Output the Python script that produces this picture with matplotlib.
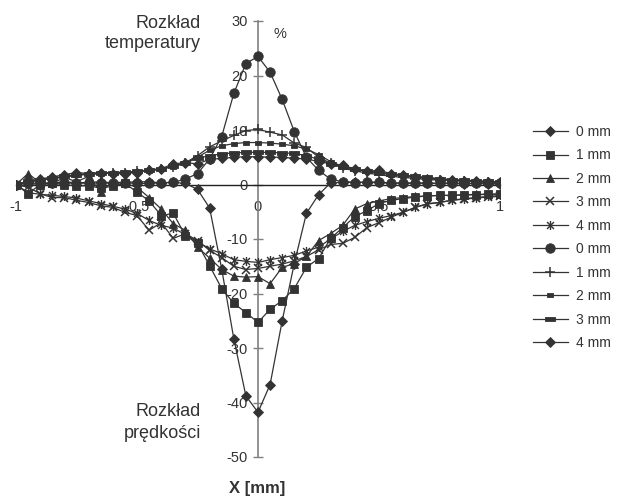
import matplotlib
matplotlib.use("Agg")
import matplotlib.pyplot as plt
from matplotlib.path import Path

plt.rcParams['font.family'] = ['Liberation Sans', 'DejaVu Sans']

# Position across the channel [mm]
x_mm = [-1.00, -0.95, -0.90, -0.85, -0.80, -0.75, -0.70, -0.65, -0.60, -0.55,
        -0.50, -0.45, -0.40, -0.35, -0.30, -0.25, -0.20, -0.15, -0.10, -0.05,
        0.00, 0.05, 0.10, 0.15, 0.20, 0.25, 0.30, 0.35, 0.40, 0.45,
        0.50, 0.55, 0.60, 0.65, 0.70, 0.75, 0.80, 0.85, 0.90, 0.95, 1.00]

# Velocity distribution [%] at distances 0..4 mm
vel_0mm = [0.0, 0.2, 0.0, 0.3, 0.5, 0.3, 0.4, 0.5, 0.3, 0.4,
           0.5, 0.5, 0.3, 0.4, 0.2, -0.9, -4.3, -15.5, -28.3, -38.8,
           -41.8, -36.7, -25.0, -14.5, -5.3, -1.9, 0.3, 0.4, 0.5, 0.3,
           0.4, 0.2, 0.3, 0.2, 0.3, 0.2, 0.2, 0.1, 0.2, 0.1, 0.1]
vel_1mm = [0.0, -1.7, 0.0, 0.2, 0.0, -0.3, -0.2, -0.7, -0.3, 0.2,
           -1.4, -3.0, -5.7, -5.3, -9.4, -10.8, -14.9, -19.1, -21.8, -23.5,
           -25.3, -22.9, -21.3, -19.1, -15.2, -13.6, -9.9, -7.9, -5.9, -4.8,
           -3.5, -2.9, -2.6, -2.3, -2.1, -2.0, -2.0, -1.9, -1.9, -1.8, -1.8]
vel_2mm = [0.0, 2.0, 0.3, 0.2, 1.3, 0.5, 1.5, -1.4, 0.6, 0.2,
           -0.5, -2.4, -4.5, -7.2, -8.4, -11.5, -13.5, -15.6, -16.8, -17.0,
           -16.9, -18.2, -15.2, -14.5, -13.2, -10.3, -9.0, -7.5, -4.5, -3.5,
           -3.0, -2.6, -2.4, -2.2, -2.1, -2.0, -2.0, -1.9, -1.8, -1.8, -1.7]
vel_3mm = [0.0, -0.5, -1.7, -2.4, -2.4, -2.9, -3.3, -3.9, -4.2, -5.1,
           -5.7, -8.4, -7.0, -9.9, -9.0, -10.3, -12.1, -13.4, -15.0, -15.6,
           -15.4, -15.0, -14.6, -14.0, -13.2, -12.0, -11.0, -10.8, -9.7, -7.9,
           -7.0, -6.0, -5.1, -4.2, -3.6, -3.3, -2.9, -2.7, -2.5, -2.3, -2.2]
vel_4mm = [0.0, -1.5, -1.8, -2.0, -2.2, -2.5, -3.0, -3.5, -4.0, -4.5,
           -5.3, -6.6, -7.5, -8.0, -9.2, -10.5, -11.8, -12.7, -13.8, -14.1,
           -14.3, -13.8, -13.4, -13.0, -12.2, -11.5, -10.0, -8.6, -7.5, -6.8,
           -6.2, -5.7, -5.1, -4.2, -3.5, -3.3, -2.9, -2.6, -2.4, -2.2, -2.0]

# Temperature distribution [%] at distances 0..4 mm
temp_0mm = [0.0, 0.3, 0.2, 0.3, 0.2, 0.3, 0.2, 0.3, 0.2, 0.3,
            0.2, 0.2, 0.3, 0.4, 1.0, 2.0, 4.7, 8.8, 16.7, 22.2,
            23.5, 20.6, 15.6, 9.7, 5.0, 2.6, 1.0, 0.5, 0.3, 0.5,
            0.4, 0.3, 0.2, 0.3, 0.2, 0.2, 0.3, 0.2, 0.2, 0.3, 0.2]
temp_1mm = [0.0, 0.5, 0.8, 1.1, 1.4, 1.7, 1.9, 2.0, 2.1, 2.2,
            2.4, 2.6, 2.9, 3.3, 4.0, 5.3, 6.9, 8.0, 9.0, 9.9,
            10.1, 9.6, 9.1, 7.6, 6.8, 5.0, 3.9, 3.0, 2.5, 2.1,
            1.8, 1.5, 1.3, 1.1, 0.9, 0.8, 0.7, 0.6, 0.5, 0.4, 0.3]
temp_2mm = [0.0, 0.5, 0.8, 1.1, 1.4, 1.7, 1.9, 2.0, 2.1, 2.2,
            2.3, 2.5, 2.8, 3.3, 3.9, 5.0, 6.3, 7.1, 7.5, 7.7,
            7.7, 7.6, 7.4, 7.1, 6.5, 5.5, 4.2, 3.3, 2.8, 2.4,
            2.1, 1.8, 1.6, 1.4, 1.2, 1.0, 0.8, 0.7, 0.6, 0.5, 0.4]
temp_3mm = [0.0, 0.6, 0.9, 1.2, 1.5, 1.8, 2.0, 2.1, 2.2, 2.3,
            2.4, 2.6, 2.9, 3.4, 4.0, 4.8, 5.3, 5.6, 5.8, 5.9,
            5.9, 5.9, 5.8, 5.7, 5.3, 4.6, 3.8, 3.2, 2.8, 2.5,
            2.2, 2.0, 1.7, 1.5, 1.3, 1.1, 0.9, 0.8, 0.7, 0.6, 0.5]
temp_4mm = [0.0, 0.6, 1.0, 1.4, 1.8, 2.2, 2.0, 2.2, 2.0, 2.0,
            2.2, 2.6, 2.9, 3.8, 4.0, 3.8, 4.6, 4.8, 5.0, 5.1,
            5.1, 5.0, 5.0, 4.8, 4.7, 4.2, 3.8, 3.5, 2.9, 2.4,
            2.6, 2.0, 1.7, 1.3, 1.1, 0.9, 0.8, 0.7, 0.6, 0.5, 0.5]

series_labels = ['0 mm', '1 mm', '2 mm', '3 mm', '4 mm',
                 '0 mm', '1 mm', '2 mm', '3 mm', '4 mm']
y_ticks = [-50, -40, -30, -20, -10, 0, 10, 20, 30]
x_ticks = [-1, -0.5, 0, 0.5, 1]
x_tick_labels = ['-1', '-0,5', '0', '0,5', '1']

INK = '#333333'

# Custom marker shapes: asterisk (x with vertical bar) and horizontal bars
asterisk = Path([(-1, -1), (1, 1), (-1, 1), (1, -1), (0, -1.3), (0, 1.3)],
                [Path.MOVETO, Path.LINETO, Path.MOVETO, Path.LINETO,
                 Path.MOVETO, Path.LINETO])
bar_short = Path([(-1, -0.45), (1, -0.45), (1, 0.45), (-1, 0.45), (-1, -0.45)],
                 [Path.MOVETO, Path.LINETO, Path.LINETO, Path.LINETO, Path.CLOSEPOLY])
bar_long = Path([(-1, -0.4), (1, -0.4), (1, 0.4), (-1, 0.4), (-1, -0.4)],
                [Path.MOVETO, Path.LINETO, Path.LINETO, Path.LINETO, Path.CLOSEPOLY])

styles = [
    dict(marker='D', ms=5.4),
    dict(marker='s', ms=5.8),
    dict(marker='^', ms=6.4),
    dict(marker='x', ms=5.5, mew=1.1),
    dict(marker=asterisk, ms=6.5, mew=1.0, mfc='none'),
    dict(marker='o', ms=6.8),
    dict(marker='+', ms=7.0, mew=1.1),
    dict(marker=bar_short, ms=5.0),
    dict(marker=bar_long, ms=7.5),
    dict(marker='D', ms=5.4),
]
all_series = [vel_0mm, vel_1mm, vel_2mm, vel_3mm, vel_4mm,
              temp_0mm, temp_1mm, temp_2mm, temp_3mm, temp_4mm]

fig = plt.figure(figsize=(6.19, 4.96), dpi=100)
W, H = 619, 496
ax = fig.add_axes([16 / W, 1 - 457 / H, 484 / W, 436 / H])
ax.set_xlim(-1, 1)
ax.set_ylim(-50, 30)
ax.set_axisbelow(True)

lines = []
for vals, st, lab in zip(all_series, styles, series_labels):
    st = dict(st)
    marker = st.pop('marker')
    ms = st.pop('ms')
    ln, = ax.plot(x_mm, vals, color=INK, lw=0.9, marker=marker, markersize=ms,
                  markerfacecolor=st.pop('mfc', INK), markeredgecolor=INK,
                  markeredgewidth=st.pop('mew', 0.6), label=lab, zorder=3)
    lines.append(ln)

# Axes crossing at the origin
for side in ('top', 'right'):
    ax.spines[side].set_visible(False)
ax.spines['left'].set_position(('data', 0))
ax.spines['bottom'].set_position(('data', 0))
ax.spines['left'].set_color('#808080')
ax.spines['left'].set_linewidth(1.2)
ax.spines['bottom'].set_color('#222222')
ax.spines['bottom'].set_linewidth(1.0)

ax.set_yticks(y_ticks)
ax.set_yticklabels([str(v) for v in y_ticks])
ax.tick_params(axis='y', direction='inout', length=6.5, width=1.0,
               color='#808080', labelsize=10.5, labelcolor=INK, pad=4)
ax.set_xticks(x_ticks)
ax.set_xticklabels(x_tick_labels)
ax.tick_params(axis='x', length=0, labelsize=10.5, labelcolor=INK, pad=11)

def ftext(px, py, s, **kw):
    fig.text(px / W, 1 - py / H, s, color=INK, **kw)

ftext(201, 23, 'Rozkład', ha='right', va='center', fontsize=13)
ftext(201, 43, 'temperatury', ha='right', va='center', fontsize=13)
ftext(201, 412, 'Rozkład', ha='right', va='center', fontsize=13)
ftext(201, 433, 'prędkości', ha='right', va='center', fontsize=13)
ftext(280, 34, '%', ha='center', va='center', fontsize=10.5)
ftext(257, 488, 'X [mm]', ha='center', va='center', fontsize=12, fontweight='bold')

leg = fig.legend(handles=lines, loc='upper left',
                 bbox_to_anchor=(533 / W, 1 - 125 / H), frameon=False,
                 fontsize=10, handlelength=2.5, handletextpad=0.6,
                 labelspacing=0.68, borderpad=0, borderaxespad=0)
for t in leg.get_texts():
    t.set_color(INK)

fig.savefig('out.png', dpi=100)
